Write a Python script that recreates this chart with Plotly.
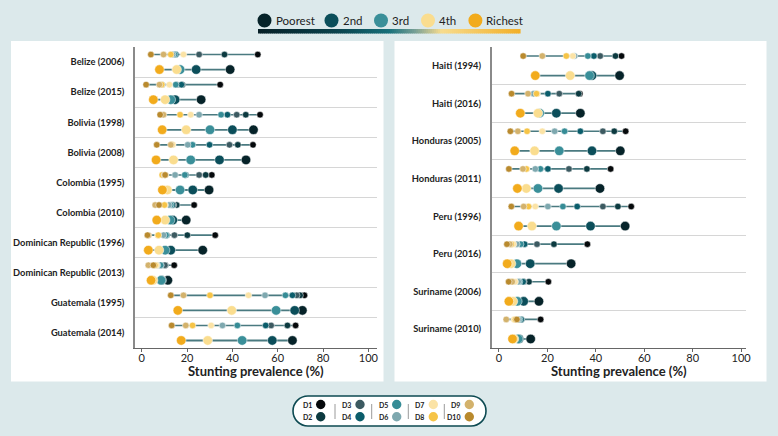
import plotly.graph_objects as go

W, H = 778, 436

# ---------------- data ----------------
LEFT_SURVEYS = ["Belize (2006)", "Belize (2015)", "Bolivia (1998)", "Bolivia (2008)",
                "Colombia (1995)", "Colombia (2010)", "Dominican Republic (1996)",
                "Dominican Republic (2013)", "Guatemala (1995)", "Guatemala (2014)"]
RIGHT_SURVEYS = ["Haiti (1994)", "Haiti (2016)", "Honduras (2005)", "Honduras (2011)",
                 "Peru (1996)", "Peru (2016)", "Suriname (2006)", "Suriname (2010)"]

# deciles D1..D10 (stunting %)
LEFT_DECILES = [
    [51.2, 36.5, 25.3, 15.0, 14.4, 13.6, 18.4, 12.8, 9.6, 4.0],
    [34.6, 17.9, 15.4, 17.5, 15.0, 9.0, 12.2, 8.8, 7.8, 1.9],
    [52.2, 45.9, 41.9, 37.8, 35.0, 25.3, 21.6, 16.9, 9.6, 8.1],
    [49.1, 42.4, 38.7, 29.9, 22.4, 20.3, 13.7, 13.2, 12.8, 6.6],
    [30.9, 28.2, 25.3, 19.4, 19.0, 14.7, 10.5, 9.0, 10.0, 10.3],
    [23.1, 15.4, 14.0, 13.5, 12.8, 12.0, 10.3, 10.0, 5.9, 7.6],
    [32.4, 20.1, 14.4, 11.0, 10.7, 9.6, 7.1, 7.3, 3.0, 2.5],
    [14.3, 10.4, 10.2, 8.5, 8.3, 6.9, 6.5, 5.8, 2.9, 5.1],
    [71.8, 69.9, 68.4, 66.5, 63.4, 54.4, 47.1, 30.1, 18.4, 12.8],
    [67.9, 64.3, 57.1, 54.7, 42.2, 35.6, 30.6, 22.4, 19.4, 13.2],
]
RIGHT_DECILES = [
    [50.6, 48.1, 41.8, 39.2, 36.7, 31.2, 30.5, 27.8, 17.9, 10.0],
    [33.4, 32.9, 24.9, 20.2, 15.0, 14.3, 15.8, 15.5, 12.0, 5.2],
    [52.3, 47.6, 42.9, 33.6, 27.1, 23.0, 17.9, 11.6, 7.8, 4.7],
    [46.1, 36.3, 28.9, 20.2, 17.1, 15.0, 11.5, 11.3, 9.9, 4.1],
    [54.6, 49.1, 42.9, 32.3, 26.4, 20.2, 15.0, 12.2, 10.2, 5.1],
    [36.5, 22.7, 15.7, 10.6, 9.0, 7.4, 6.0, 5.1, 4.5, 3.3],
    [20.4, 12.4, 10.3, 10.0, 8.5, 8.0, 6.7, 5.1, 5.5, 4.0],
    [17.2, 9.2, 9.0, 9.2, 8.5, 8.0, 6.2, 6.8, 3.0, 7.4],
]
# quintiles Poorest, 2nd, 3rd, 4th, Richest
LEFT_QUINTILES = [
    [39.0, 24.0, 16.9, 15.4, 7.8],
    [26.2, 14.7, 12.8, 10.3, 5.1],
    [49.3, 40.0, 30.1, 19.6, 9.0],
    [46.0, 34.3, 21.6, 14.0, 6.3],
    [29.7, 22.5, 16.9, 11.3, 9.1],
    [19.6, 13.7, 12.5, 10.3, 6.6],
    [26.9, 12.8, 10.3, 7.6, 2.9],
    [11.5, 8.8, 8.5, 5.0, 4.1],
    [70.9, 67.5, 59.3, 39.7, 15.9],
    [66.5, 57.6, 44.3, 29.1, 17.4],
]
RIGHT_QUINTILES = [
    [49.8, 38.4, 37.4, 29.4, 15.0],
    [33.6, 23.7, 16.8, 16.1, 8.8],
    [50.1, 38.4, 24.9, 14.7, 6.5],
    [41.7, 24.6, 16.1, 11.3, 7.6],
    [52.1, 37.8, 23.7, 13.6, 8.1],
    [29.8, 12.9, 7.4, 5.0, 3.4],
    [16.5, 10.2, 7.6, 5.8, 4.1],
    [13.1, 8.3, 7.9, 6.2, 5.6],
]
DECILE_NAMES = ["D1", "D2", "D3", "D4", "D5", "D6", "D7", "D8", "D9", "D10"]
QUINTILE_NAMES = ["Poorest", "2nd", "3rd", "4th", "Richest"]
X_TICKS = [0, 20, 40, 60, 80, 100]
X_TITLE = "Stunting prevalence (%)"

# ---------------- style ----------------
DEC_COLORS = ["#05090b", "#0c3a40", "#3c5a61", "#0b5d6b", "#368c96",
              "#7ea8af", "#fbe3a6", "#f6c447", "#d3b26c", "#b98a2e"]
Q_COLORS = ["#062329", "#0b4e5a", "#3a8f99", "#fadd8f", "#f2ab1c"]
LINE_COLOR = "#4a7a80"
BG = "#dce9eb"
FONT = "Lato, 'Open Sans', sans-serif"
TXT = "#222222"


def px(x):
    return x / W


def py(y):
    return 1 - y / H


fig = go.Figure()

panels = [
    (LEFT_SURVEYS, LEFT_DECILES, LEFT_QUINTILES, "x", "y", 0.25),
    (RIGHT_SURVEYS, RIGHT_DECILES, RIGHT_QUINTILES, "x2", "y2", 0.26),
]

for surveys, decs, quins, xa, ya, off in panels:
    for rows, yoff, width in ((decs, -off, 1.6), (quins, off, 1.8)):
        lx, ly = [], []
        for i, r in enumerate(rows):
            lx += [min(r), max(r), None]
            ly += [i + 0.5 + yoff, i + 0.5 + yoff, None]
        fig.add_trace(go.Scatter(x=lx, y=ly, mode="lines", xaxis=xa, yaxis=ya,
                                 line=dict(color=LINE_COLOR, width=width),
                                 hoverinfo="skip", showlegend=False))
    for k, name in enumerate(DECILE_NAMES):
        fig.add_trace(go.Scatter(
            x=[r[k] for r in decs], y=[i + 0.5 - off for i in range(len(decs))],
            mode="markers", name=name, xaxis=xa, yaxis=ya, showlegend=False,
            marker=dict(size=6.5, color=DEC_COLORS[k], line=dict(color="white", width=0.5))))
    for k, name in enumerate(QUINTILE_NAMES):
        fig.add_trace(go.Scatter(
            x=[r[k] for r in quins], y=[i + 0.5 + off for i in range(len(quins))],
            mode="markers", name=name, xaxis=xa, yaxis=ya, showlegend=False,
            marker=dict(size=9.5, color=Q_COLORS[k], line=dict(color="white", width=0.5))))

ytop, ybot = 47, 348
ydom = [py(ybot), py(ytop)]

xcommon = dict(showline=True, linecolor="#666666", linewidth=1.2, automargin=False,
               ticks="outside", ticklen=3, tickcolor="#666666", tickvals=X_TICKS,
               ticklabelstandoff=-3,
               tickfont=dict(size=11, color=TXT, family=FONT), showgrid=False, zeroline=False)


def yaxis_cfg(n, anchor):
    return dict(domain=ydom, range=[n, 0], anchor=anchor, showline=True, automargin=False,
                linecolor="#8a8a8a", linewidth=1.5, showgrid=False, zeroline=False,
                tickvals=[i + 0.5 for i in range(n)], ticks="outside", ticklen=7,
                tickcolor="rgba(0,0,0,0)",
                tickfont=dict(size=9.3, color=TXT, family=FONT, weight="bold"),
                minor=dict(tickmode="array", tickvals=list(range(1, n)), showgrid=True,
                           gridcolor="#d6d6d6", gridwidth=1, ticks=""))


ly = yaxis_cfg(len(LEFT_SURVEYS), "x")
ly["ticktext"] = LEFT_SURVEYS
ry = yaxis_cfg(len(RIGHT_SURVEYS), "x2")
ry["ticktext"] = RIGHT_SURVEYS

xl = dict(xcommon, domain=[px(135), px(376.7)], range=[-3, 103.7], anchor="y")
xr = dict(xcommon, domain=[px(491.7), px(746)], range=[-3, 102], anchor="y2")

shapes = []
# white panels
for x0, x1 in ((11, 383.5), (394.5, 766.5)):
    shapes.append(dict(type="rect", xref="paper", yref="paper", x0=px(x0), x1=px(x1),
                       y0=py(381.5), y1=py(41), fillcolor="white", line=dict(width=0),
                       layer="below"))

annotations = []
# axis titles
for xa in ("x domain", "x2 domain"):
    annotations.append(dict(text=X_TITLE, xref=xa, yref="paper", x=0.5, y=py(371),
                            xanchor="center", yanchor="middle", showarrow=False,
                            font=dict(size=13, color=TXT, family=FONT, weight="bold")))

# ---- top legend (quintiles) ----
leg_mx = [264.5, 331.5, 381, 428, 475.4]
leg_y = 20.5
for k, name in enumerate(QUINTILE_NAMES):
    shapes.append(dict(type="circle", xref="paper", yref="paper", xsizemode="pixel",
                       ysizemode="pixel", xanchor=px(leg_mx[k]), yanchor=py(leg_y),
                       x0=-7, x1=7, y0=-7, y1=7, fillcolor=Q_COLORS[k],
                       line=dict(width=0)))
    annotations.append(dict(text=name, xref="paper", yref="paper", x=px(leg_mx[k] + 9),
                            y=py(leg_y), xanchor="left", yanchor="middle", showarrow=False,
                            font=dict(size=11.5, color=TXT, family=FONT)))

# gradient bar
stops = [(0.0, (6, 31, 38)), (0.3, (10, 66, 76)), (0.5, (24, 112, 122)),
         (0.6, (120, 160, 150)), (0.7, (247, 220, 142)), (1.0, (242, 175, 40))]


def grad(t):
    for (t0, c0), (t1, c1) in zip(stops[:-1], stops[1:]):
        if t0 <= t <= t1:
            f = (t - t0) / (t1 - t0)
            return "rgb(%d,%d,%d)" % tuple(round(a + (b - a) * f) for a, b in zip(c0, c1))
    return "rgb(242,175,40)"


gx0, gx1, n = 258, 520, 131
for i in range(n):
    a = gx0 + (gx1 - gx0) * i / n
    b = gx0 + (gx1 - gx0) * (i + 1) / n + 0.6
    shapes.append(dict(type="rect", xref="paper", yref="paper", x0=px(a), x1=px(b),
                       y0=py(33.5), y1=py(29), fillcolor=grad((i + 0.5) / n),
                       line=dict(width=0)))

# ---- bottom legend (deciles) ----
k_ = 0.5523
bx0, bx1, by0, by1 = 293, 486, 396, 426
r = (by1 - by0) / 2
cy = (by0 + by1) / 2
cl, cr = bx0 + r, bx1 - r


def P(x, y):
    return "%.5f,%.5f" % (px(x), py(y))


path = ("M" + P(cl, by0) + " L" + P(cr, by0) +
        " C" + P(cr + k_ * r, by0) + " " + P(bx1, cy - k_ * r) + " " + P(bx1, cy) +
        " C" + P(bx1, cy + k_ * r) + " " + P(cr + k_ * r, by1) + " " + P(cr, by1) +
        " L" + P(cl, by1) +
        " C" + P(cl - k_ * r, by1) + " " + P(bx0, cy + k_ * r) + " " + P(bx0, cy) +
        " C" + P(bx0, cy - k_ * r) + " " + P(cl - k_ * r, by0) + " " + P(cl, by0) + " Z")
shapes.append(dict(type="path", xref="paper", yref="paper", path=path,
                   fillcolor="white", line=dict(color="#0d4a52", width=1.6)))

col_mx = [320.7, 360, 396.7, 433.3, 469.3]
row_y = [404.5, 416.8]
for k, name in enumerate(DECILE_NAMES):
    c, rr = divmod(k, 2)
    mx, my = col_mx[c], row_y[rr]
    shapes.append(dict(type="circle", xref="paper", yref="paper", xsizemode="pixel",
                       ysizemode="pixel", xanchor=px(mx), yanchor=py(my),
                       x0=-4.7, x1=4.7, y0=-4.7, y1=4.7, fillcolor=DEC_COLORS[k],
                       line=dict(width=0)))
    annotations.append(dict(text=name, xref="paper", yref="paper", x=px(mx - 7),
                            y=py(my), xanchor="right", yanchor="middle", showarrow=False,
                            font=dict(size=7, color=TXT, family=FONT, weight="bold")))
for dx in (335, 371.7, 408.3, 444.3):
    shapes.append(dict(type="line", xref="paper", yref="paper", x0=px(dx), x1=px(dx),
                       y0=py(404), y1=py(419), line=dict(color="#9a9a9a", width=1)))

fig.update_layout(
    width=W, height=H, margin=dict(l=0, r=0, t=0, b=0),
    paper_bgcolor=BG, plot_bgcolor="white",
    font=dict(family=FONT, color=TXT),
    xaxis=xl, yaxis=ly, xaxis2=xr, yaxis2=ry,
    shapes=shapes, annotations=annotations, showlegend=False,
)

fig.write_html("out.html", config={"displayModeBar": False},
               post_script="document.body.style.margin='0';"
                           "document.body.style.background='%s';" % BG)
